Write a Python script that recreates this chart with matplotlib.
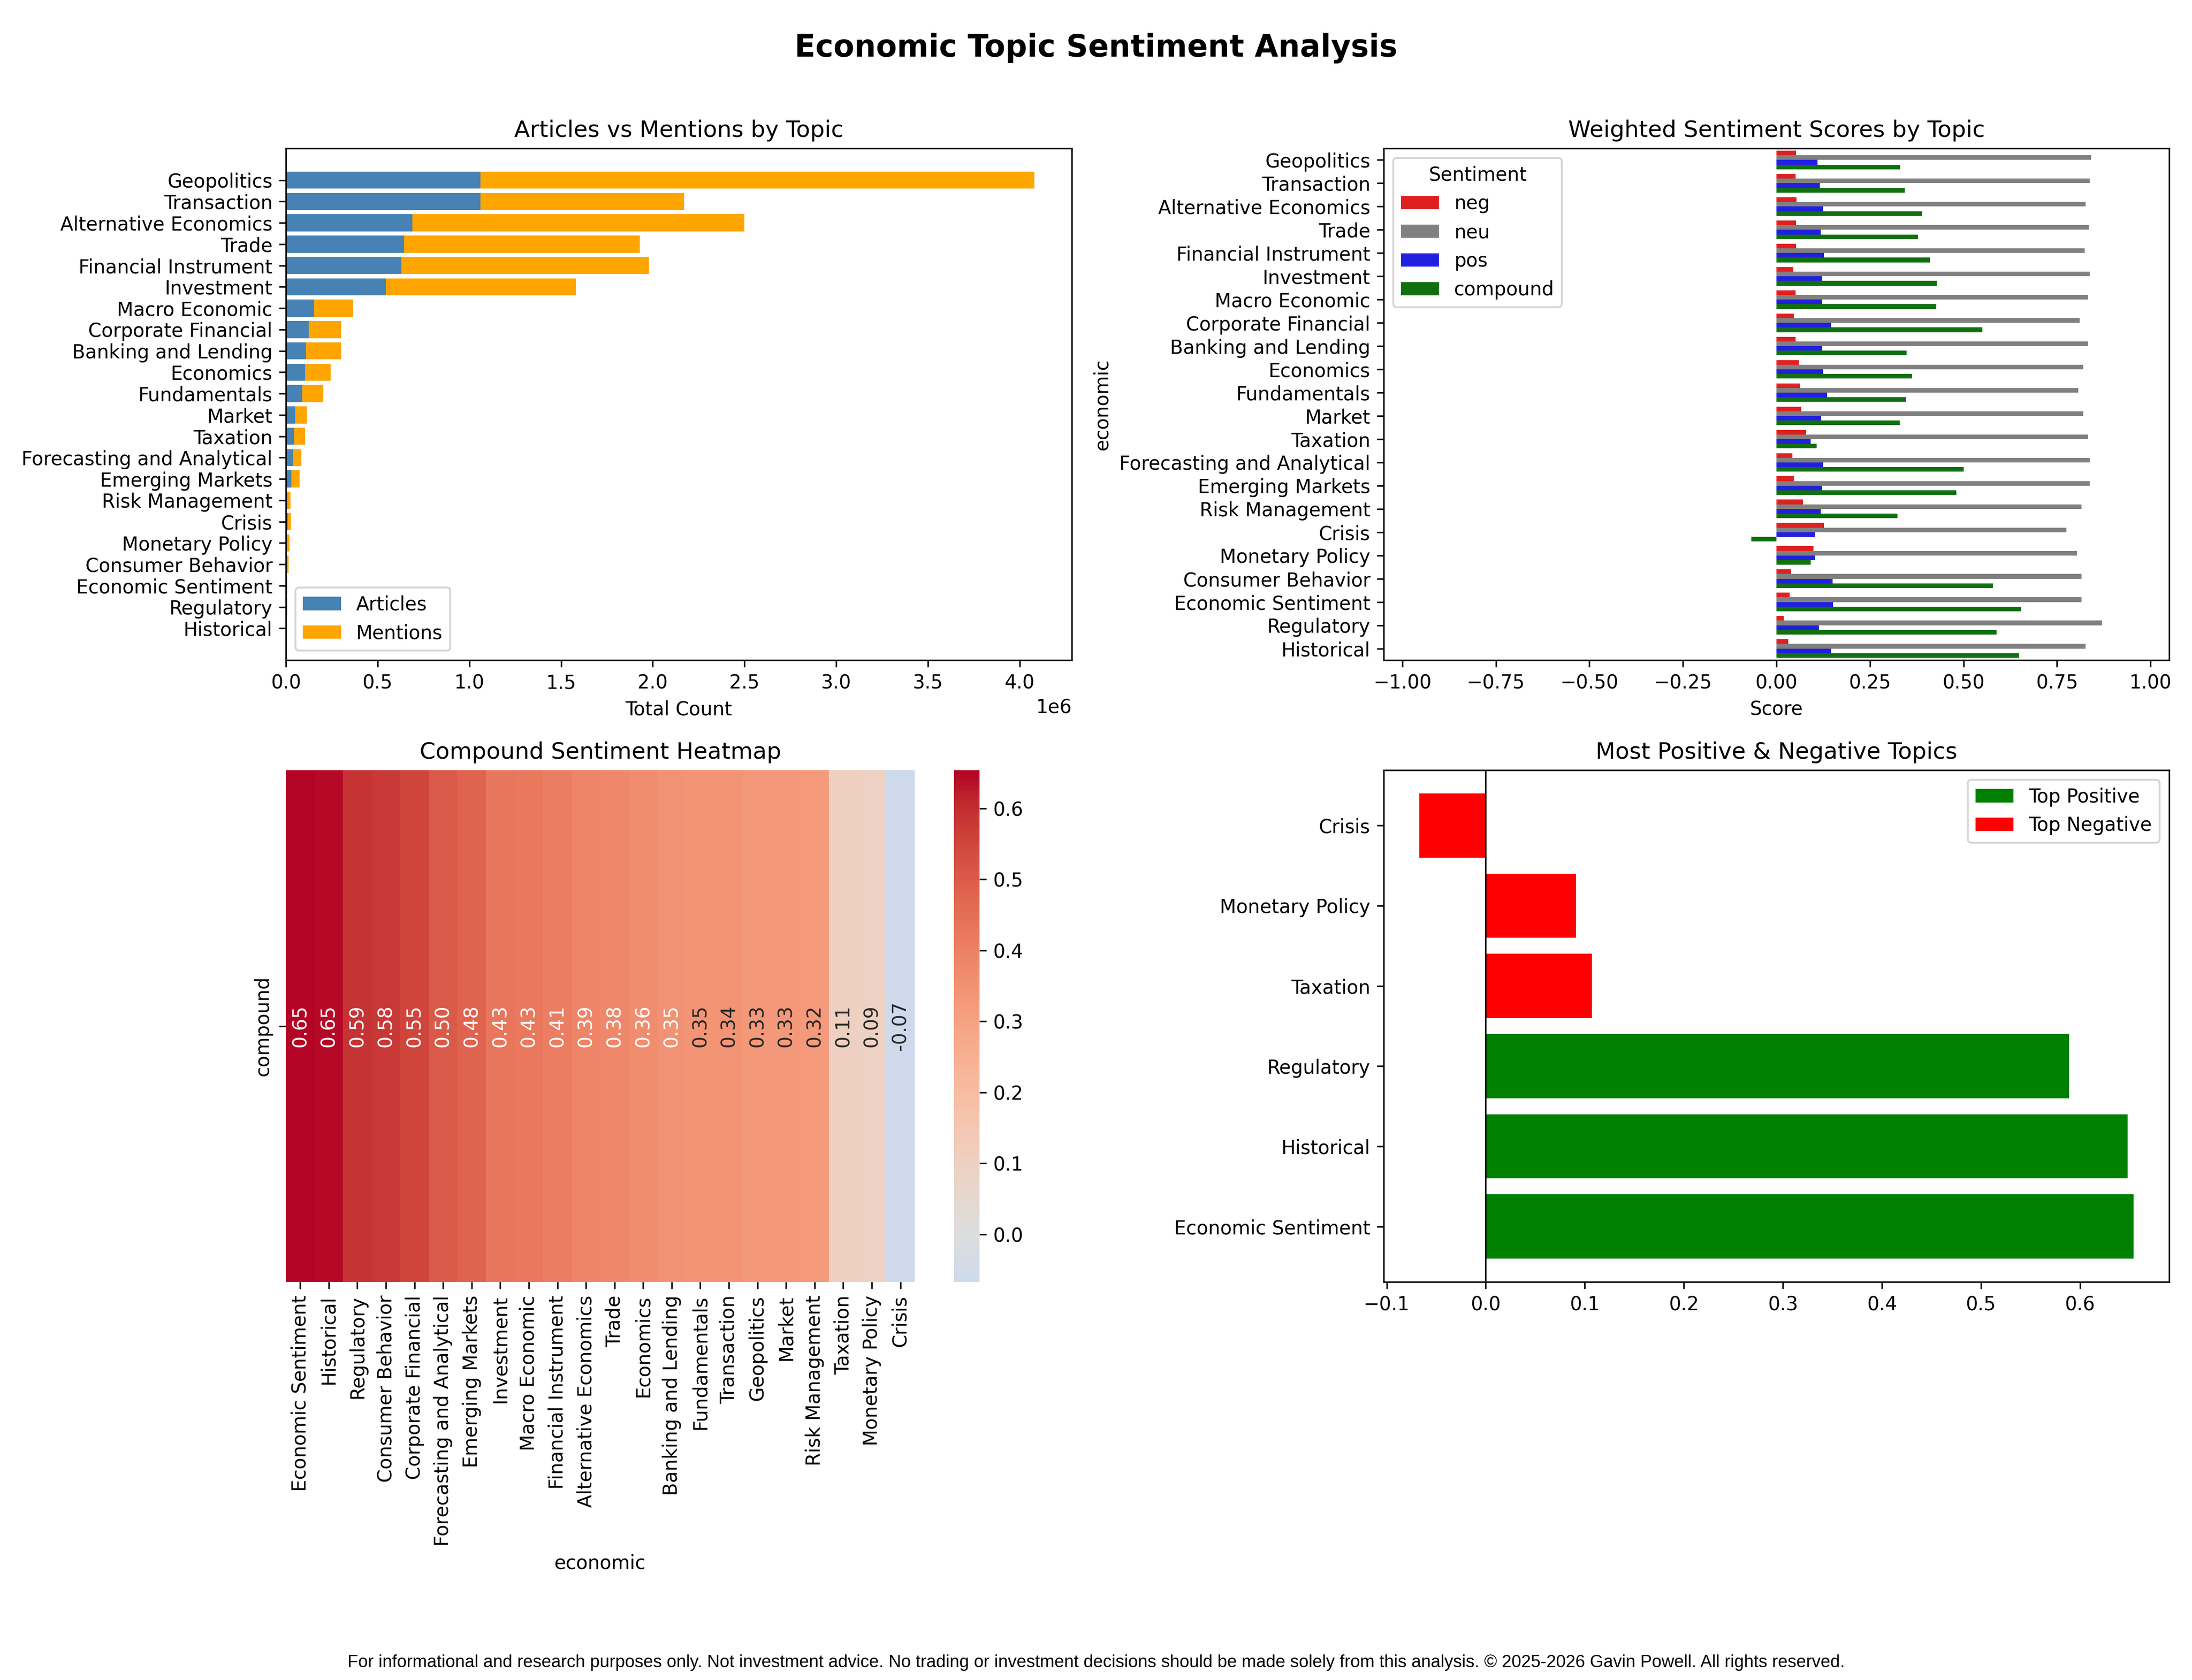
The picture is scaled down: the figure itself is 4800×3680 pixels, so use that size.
import matplotlib
matplotlib.use("Agg")
import matplotlib.pyplot as plt
import numpy as np
import pandas as pd
import seaborn as sns

# ---------------- data ----------------
topics = ["Geopolitics", "Transaction", "Alternative Economics", "Trade",
          "Financial Instrument", "Investment", "Macro Economic", "Corporate Financial",
          "Banking and Lending", "Economics", "Fundamentals", "Market", "Taxation",
          "Forecasting and Analytical", "Emerging Markets", "Risk Management", "Crisis",
          "Monetary Policy", "Consumer Behavior", "Economic Sentiment", "Regulatory",
          "Historical"]

articles = [1060000, 1060000, 690000, 645000, 630000, 545000, 155000, 125000,
            110000, 105000, 90000, 50000, 45000, 40000, 30000, 8000, 10000,
            6000, 4000, 6000, 2000, 1000]
mentions = [3020000, 1110000, 1810000, 1285000, 1350000, 1035000, 210000, 175000,
            190000, 140000, 115000, 65000, 60000, 45000, 45000, 17000, 18000,
            14000, 11000, 1000, 6000, 1000]

neg = [0.052, 0.051, 0.054, 0.052, 0.052, 0.045, 0.051, 0.047, 0.051, 0.060, 0.064,
       0.066, 0.079, 0.043, 0.047, 0.071, 0.127, 0.099, 0.039, 0.036, 0.019, 0.032]
neu = [0.841, 0.837, 0.826, 0.835, 0.824, 0.837, 0.833, 0.811, 0.833, 0.820, 0.807,
       0.820, 0.833, 0.837, 0.837, 0.816, 0.775, 0.803, 0.816, 0.816, 0.871, 0.826]
pos = [0.110, 0.116, 0.124, 0.118, 0.127, 0.122, 0.122, 0.146, 0.122, 0.124, 0.135,
       0.120, 0.092, 0.124, 0.122, 0.118, 0.103, 0.103, 0.150, 0.152, 0.114, 0.146]
compound = [0.331, 0.343, 0.390, 0.378, 0.410, 0.429, 0.427, 0.551, 0.348, 0.363,
            0.347, 0.330, 0.107, 0.500, 0.481, 0.324, -0.067, 0.091, 0.579, 0.654,
            0.589, 0.648]

# ---------------- figure ----------------
W, H = 4800, 3680
fig = plt.figure(figsize=(W / 300, H / 300), dpi=300)

def rect(x0, y0, x1, y1):
    return [x0 / W, 1 - y1 / H, (x1 - x0) / W, (y1 - y0) / H]

ax1 = fig.add_axes(rect(626, 325, 2347, 1446))
ax2 = fig.add_axes(rect(3030, 325, 4750, 1446))
ax3 = fig.add_axes(rect(626, 1687, 2347, 2808))
ax4 = fig.add_axes(rect(3030, 1687, 4750, 2808))

# --- 1. stacked articles vs mentions
ax1.barh(topics, articles, color="steelblue", label="Articles")
ax1.barh(topics, mentions, left=articles, color="orange", label="Mentions")
ax1.invert_yaxis()
ax1.set_title("Articles vs Mentions by Topic")
ax1.set_xlabel("Total Count")
ax1.legend(loc="lower left")

# --- 2. weighted sentiment grouped bars
df = pd.DataFrame({"economic": topics, "neg": neg, "neu": neu, "pos": pos,
                   "compound": compound})
melted = df.melt(id_vars="economic", var_name="Sentiment", value_name="Score")
sns.barplot(data=melted, y="economic", x="Score", hue="Sentiment", orient="h",
            palette={"neg": "red", "neu": "gray", "pos": "blue", "compound": "green"},
            errorbar=None, ax=ax2)
ax2.set_xlim(-1.05, 1.05)
ax2.set_title("Weighted Sentiment Scores by Topic")
ax2.legend(title="Sentiment", loc="upper left")

# --- 3. heatmap
comp = pd.Series(compound, index=pd.Index(topics, name="economic")).sort_values(ascending=False)
hm = comp.to_frame("compound").T
sns.heatmap(hm, ax=ax3, cmap="coolwarm", center=0, annot=True, fmt=".2f",
            annot_kws={"rotation": 90})
ax3.set_title("Compound Sentiment Heatmap")

# --- 4. top positive / negative
top_pos = comp.head(3)
top_neg = comp.tail(3)
ax4.barh(list(top_pos.index), top_pos.values, color="green", label="Top Positive")
ax4.barh(list(top_neg.index), top_neg.values, color="red", label="Top Negative")
ax4.axvline(0, color="black", linewidth=0.8)
ax4.set_title("Most Positive & Negative Topics")
ax4.legend(loc="upper right")

fig.suptitle("Economic Topic Sentiment Analysis", fontsize=16, fontweight="bold",
             y=0.9805, va="top")
fig.text(0.5, 0.0103,
         "For informational and research purposes only. Not investment advice. "
         "No trading or investment decisions should be made solely from this analysis. "
         "\u00a9 2025-2026 Gavin Powell. All rights reserved.",
         ha="center", va="center", fontsize=9.15,
         family=["Liberation Sans", "DejaVu Sans"])

fig.savefig("out.png", dpi=300)
